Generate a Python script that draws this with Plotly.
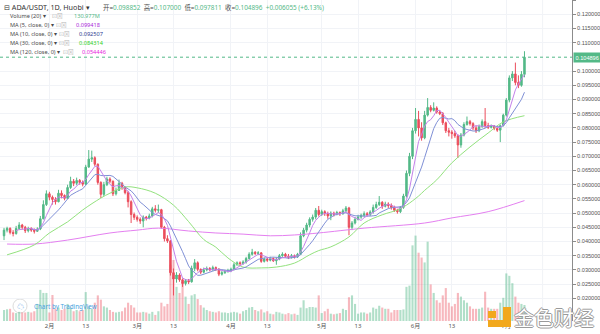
import pandas as pd
import plotly.graph_objects as go

# ---------------- data ----------------
start_date = "2020-01-17"
first_open = 0.0420

closes = [
    0.0440, 0.0446, 0.0432, 0.0428, 0.0446, 0.0458, 0.0450, 0.0438, 0.0446, 0.0440, 0.0436, 0.0444,
    0.0480, 0.0530, 0.0568, 0.0556, 0.0548, 0.0540, 0.0570, 0.0562, 0.0552, 0.0590, 0.0612, 0.0605,
    0.0615, 0.0608, 0.0602, 0.0662, 0.0690, 0.0695, 0.0672, 0.0608, 0.0566, 0.0600, 0.0620, 0.0612,
    0.0568, 0.0580, 0.0605, 0.0590, 0.0572, 0.0540, 0.0495, 0.0485, 0.0478, 0.0472, 0.0486, 0.0482,
    0.0490, 0.0515, 0.0510, 0.0512, 0.0450, 0.0410, 0.0402, 0.0290, 0.0268, 0.0282, 0.0265, 0.0252,
    0.0262, 0.0258, 0.0305, 0.0325, 0.0302, 0.0292, 0.0300, 0.0305, 0.0300, 0.0308, 0.0302, 0.0285,
    0.0290, 0.0296, 0.0298, 0.0302, 0.0318, 0.0325, 0.0322, 0.0328, 0.0340, 0.0355, 0.0362, 0.0358,
    0.0360, 0.0330, 0.0338, 0.0334, 0.0340, 0.0332, 0.0338, 0.0350, 0.0355, 0.0348, 0.0344, 0.0350,
    0.0346, 0.0355, 0.0420, 0.0440, 0.0458, 0.0478, 0.0486, 0.0510, 0.0495, 0.0505, 0.0498, 0.0490,
    0.0500, 0.0496, 0.0502, 0.0498, 0.0508, 0.0518, 0.0450, 0.0465, 0.0478, 0.0486, 0.0492, 0.0498,
    0.0494, 0.0504, 0.0520, 0.0530, 0.0538, 0.0524, 0.0532, 0.0526, 0.0520, 0.0510, 0.0505, 0.0520,
    0.0560, 0.0640, 0.0700, 0.0790, 0.0830, 0.0800, 0.0765, 0.0845, 0.0872, 0.0862, 0.0870, 0.0856,
    0.0850, 0.0818, 0.0790, 0.0785, 0.0780, 0.0772, 0.0740, 0.0775, 0.0812, 0.0822, 0.0815, 0.0800,
    0.0790, 0.0805, 0.0822, 0.0808, 0.0802, 0.0806, 0.0798, 0.0792, 0.0808, 0.0845, 0.0898, 0.0976,
    0.0990, 0.0960, 0.0950, 0.098852, 0.104896,
]
highs = [
    0.0448, 0.0452, 0.0450, 0.0440, 0.0455, 0.0468, 0.0462, 0.0455, 0.0452, 0.0450, 0.0446, 0.0450,
    0.0490, 0.0545, 0.0580, 0.0575, 0.0562, 0.0556, 0.0582, 0.0580, 0.0566, 0.0600, 0.0628, 0.0620,
    0.0625, 0.0620, 0.0615, 0.0670, 0.0722, 0.0720, 0.0700, 0.0675, 0.0612, 0.0610, 0.0628, 0.0626,
    0.0615, 0.0590, 0.0618, 0.0610, 0.0594, 0.0578, 0.0545, 0.0502, 0.0492, 0.0485, 0.0492, 0.0490,
    0.0498, 0.0522, 0.0528, 0.0530, 0.0515, 0.0455, 0.0422, 0.0405, 0.0305, 0.0292, 0.0288, 0.0270,
    0.0268, 0.0268, 0.0315, 0.0338, 0.0330, 0.0305, 0.0308, 0.0312, 0.0310, 0.0315, 0.0312, 0.0306,
    0.0296, 0.0300, 0.0304, 0.0308, 0.0325, 0.0330, 0.0330, 0.0334, 0.0346, 0.0362, 0.0374, 0.0366,
    0.0366, 0.0362, 0.0344, 0.0342, 0.0346, 0.0344, 0.0344, 0.0356, 0.0362, 0.0360, 0.0356, 0.0356,
    0.0354, 0.0360, 0.0432, 0.0448, 0.0466, 0.0485, 0.0495, 0.0518, 0.0525, 0.0512, 0.0510, 0.0505,
    0.0506, 0.0505, 0.0508, 0.0506, 0.0515, 0.0525, 0.0522, 0.0472, 0.0486, 0.0494, 0.0498, 0.0506,
    0.0504, 0.0510, 0.0530, 0.0540, 0.0560, 0.0542, 0.0540, 0.0538, 0.0534, 0.0526, 0.0515, 0.0525,
    0.0568, 0.0650, 0.0712, 0.0800, 0.0870, 0.0860, 0.0820, 0.0860, 0.0905, 0.0880, 0.0890, 0.0876,
    0.0862, 0.0856, 0.0822, 0.0800, 0.0792, 0.0790, 0.0778, 0.0782, 0.0820, 0.0840, 0.0828, 0.0820,
    0.0808, 0.0812, 0.0830, 0.0870, 0.0818, 0.0812, 0.0810, 0.0802, 0.0812, 0.0850, 0.0905, 0.0985,
    0.1000, 0.1030, 0.0985, 0.1000, 0.107000,
]
lows = [
    0.0405, 0.0432, 0.0425, 0.0418, 0.0424, 0.0440, 0.0442, 0.0430, 0.0432, 0.0434, 0.0428, 0.0434,
    0.0440, 0.0478, 0.0525, 0.0545, 0.0530, 0.0530, 0.0538, 0.0552, 0.0545, 0.0550, 0.0585, 0.0595,
    0.0598, 0.0600, 0.0594, 0.0598, 0.0660, 0.0680, 0.0665, 0.0600, 0.0553, 0.0560, 0.0595, 0.0605,
    0.0560, 0.0562, 0.0578, 0.0582, 0.0566, 0.0520, 0.0465, 0.0476, 0.0470, 0.0462, 0.0450, 0.0474,
    0.0478, 0.0485, 0.0502, 0.0500, 0.0445, 0.0400, 0.0395, 0.0280, 0.0210, 0.0255, 0.0258, 0.0240,
    0.0245, 0.0250, 0.0255, 0.0295, 0.0295, 0.0285, 0.0288, 0.0295, 0.0295, 0.0298, 0.0296, 0.0278,
    0.0280, 0.0286, 0.0290, 0.0292, 0.0298, 0.0315, 0.0316, 0.0318, 0.0322, 0.0336, 0.0350, 0.0352,
    0.0352, 0.0325, 0.0326, 0.0328, 0.0330, 0.0328, 0.0318, 0.0334, 0.0346, 0.0342, 0.0338, 0.0340,
    0.0340, 0.0342, 0.0352, 0.0415, 0.0432, 0.0450, 0.0470, 0.0478, 0.0488, 0.0490, 0.0490, 0.0480,
    0.0475, 0.0488, 0.0492, 0.0490, 0.0494, 0.0502, 0.0422, 0.0440, 0.0460, 0.0474, 0.0480, 0.0486,
    0.0488, 0.0490, 0.0498, 0.0515, 0.0525, 0.0515, 0.0520, 0.0518, 0.0512, 0.0504, 0.0498, 0.0500,
    0.0515, 0.0555, 0.0630, 0.0690, 0.0780, 0.0770, 0.0755, 0.0760, 0.0840, 0.0855, 0.0858, 0.0850,
    0.0845, 0.0810, 0.0782, 0.0770, 0.0762, 0.0765, 0.0694, 0.0730, 0.0770, 0.0808, 0.0808, 0.0792,
    0.0782, 0.0785, 0.0800, 0.0800, 0.0796, 0.0798, 0.0792, 0.0786, 0.0750, 0.0805, 0.0840, 0.0890,
    0.0965, 0.0950, 0.0940, 0.0945, 0.097811,
]
volumes_m = [
    90, 96, 100, 70, 65, 75, 70, 70, 75, 70, 80, 140,
    255, 230, 230, 70, 213, 100, 110, 90, 100, 140, 110, 80,
    90, 80, 90, 237, 120, 100, 150, 210, 175, 120, 110, 90,
    75, 70, 75, 80, 110, 150, 130, 110, 70, 70, 75, 70,
    60, 75, 50, 80, 150, 120, 140, 460, 500, 280, 230, 320,
    200, 140, 210, 220, 180, 130, 110, 90, 80, 75, 70, 80,
    70, 70, 65, 70, 75, 70, 60, 80, 90, 110, 115, 90,
    80, 95, 70, 80, 60, 55, 75, 70, 60, 55, 65, 55,
    60, 50, 110, 170, 105, 115, 115, 110, 210, 65, 80, 100,
    60, 55, 60, 65, 100, 90, 195, 210, 140, 60, 70, 70,
    60, 70, 110, 100, 125, 110, 100, 100, 70, 90, 90, 90,
    95, 280, 290, 620, 700, 560, 520, 480, 650, 300, 230, 170,
    150, 210, 270, 150, 120, 140, 230, 200, 170, 150, 120, 100,
    100, 100, 110, 240, 110, 100, 100, 100, 150, 190, 390, 370,
    310, 200, 150, 140, 130.977,
]

# moving averages (day offset from start, value)
ma30_days = [1, 10, 15, 21, 26, 32, 35, 40, 44, 50, 56, 61, 66, 70, 74, 79, 85, 90, 96, 101,
             104, 108, 114, 119, 125, 130, 133, 137, 139, 143, 148, 154, 160, 165, 172]
ma30_vals = [0.0353, 0.0388, 0.0430, 0.0469, 0.0511, 0.0553, 0.0570, 0.0592, 0.0589, 0.0570,
             0.0528, 0.0470, 0.0407, 0.0380, 0.0342, 0.0310, 0.0307, 0.0310, 0.0324, 0.0353,
             0.0368, 0.0381, 0.0416, 0.0465, 0.0494, 0.0511, 0.0528, 0.0560, 0.0580, 0.0617,
             0.0677, 0.0733, 0.0782, 0.0821, 0.0843]
ma120_days = [1, 10, 21, 35, 44, 51, 61, 70, 79, 88, 96, 104, 119, 139, 148, 160, 172]
ma120_vals = [0.0391, 0.0391, 0.0405, 0.0430, 0.0440, 0.0447, 0.0437, 0.0430, 0.0426, 0.0420,
              0.0423, 0.0430, 0.0447, 0.0465, 0.0483, 0.0505, 0.0544]

tick_dates = ["2020-02-01", "2020-02-13", "2020-03-01", "2020-03-13", "2020-04-01", "2020-04-13",
              "2020-05-01", "2020-05-13", "2020-06-01", "2020-06-13", "2020-07-01"]
tick_text = ["2月", "13", "3月", "13", "4月", "13", "5月", "13", "6月", "13", "7月"]
grid_dates = tick_dates + ["2020-07-13"]
y_ticks = [0.020, 0.025, 0.030, 0.035, 0.040, 0.045, 0.050, 0.055, 0.060, 0.065, 0.070,
           0.075, 0.080, 0.085, 0.090, 0.095, 0.100, 0.110, 0.115, 0.120, 0.125]

last_price = 0.104896
header_values = {"开": "0.098852", "高": "0.107000", "低": "0.097811", "收": "0.104896"}
change_text = "+0.006055 (+6.13%)"
volume_text = "130.977M"
ma_labels = ["MA (5, close, 0)", "MA (10, close, 0)", "MA (30, close, 0)", "MA (120, close, 0)"]
ma_values = ["0.099418", "0.092507", "0.084314", "0.054446"]

# ---------------- derived ----------------
dates = pd.date_range(start_date, periods=len(closes), freq="D")
opens = [first_open] + closes[:-1]
close_s = pd.Series(closes, index=dates)
ma5 = close_s.rolling(5).mean()
ma10 = close_s.rolling(10).mean()
ma30_x = [dates[0] + pd.Timedelta(days=d) for d in ma30_days]
ma120_x = [dates[0] + pd.Timedelta(days=d) for d in ma120_days]

UP = "#53b987"
DOWN = "#eb4d5c"
UP_V = "rgba(83,185,135,0.45)"
DOWN_V = "rgba(235,77,92,0.40)"
vol_colors = [UP_V if c >= o else DOWN_V for o, c in zip(opens, closes)]

C_MA5, C_MA10, C_MA30, C_MA120 = "#c382ea", "#7f90d6", "#93e27e", "#e47ff0"
V_MA5, V_MA10, V_MA30, V_MA120 = "#a926d9", "#2b3a8f", "#2ed11a", "#e622dd"

fig = go.Figure()
fig.add_trace(go.Bar(x=dates, y=volumes_m, marker=dict(color=vol_colors, line=dict(width=0)),
                     yaxis="y2", showlegend=False, hoverinfo="skip"))
fig.add_trace(go.Candlestick(
    x=dates, open=opens, high=highs, low=lows, close=closes,
    increasing=dict(line=dict(color=UP, width=1), fillcolor=UP),
    decreasing=dict(line=dict(color=DOWN, width=1), fillcolor=DOWN),
    whiskerwidth=0, showlegend=False))
fig.add_trace(go.Scatter(x=ma120_x, y=ma120_vals, mode="lines", line=dict(color=C_MA120, width=1, shape="spline"), showlegend=False))
fig.add_trace(go.Scatter(x=ma30_x, y=ma30_vals, mode="lines", line=dict(color=C_MA30, width=1, shape="spline"), showlegend=False))
fig.add_trace(go.Scatter(x=dates, y=ma10, mode="lines", line=dict(color=C_MA10, width=1), showlegend=False))
fig.add_trace(go.Scatter(x=dates, y=ma5, mode="lines", line=dict(color=C_MA5, width=1), showlegend=False))

W, H = 600, 334
ML, MR, MT, MB = 0, 28, 0, 13
PW, PH = W - ML - MR, H - MT - MB


def fx(px):
    return (px - ML) / PW


def fy(py):
    return 1 - (py - MT) / PH


FONT = "Noto Sans, Noto Sans CJK SC, sans-serif"
GRAY = "#4a4a4a"

annotations = []


def label(px, py, text, size=6, color=GRAY, anchor="left", **fontkw):
    annotations.append(dict(x=fx(px), y=fy(py), xref="paper", yref="paper", text=text,
                            showarrow=False, xanchor=anchor, yanchor="middle",
                            font=dict(family=FONT, size=size, color=color, **fontkw)))


# header line
label(2, 7, "⊟ ADA/USDT, 1D, Huobi ▾", size=7.2, color="#333333")
hdr = "  ".join(f"<span style='color:{GRAY}'>{k}=</span><span style='color:{UP}'>{v}</span>"
                for k, v in header_values.items())
hdr += f"  <span style='color:{UP}'>{change_text}</span>"
label(101, 7, hdr, size=6.4)
# indicator lines
label(8, 16, "Volume (20) ▾", size=5.6)
label(50, 16, "⊡⊠", size=5.6, color="#b5b5b5")
label(72, 16, volume_text, size=5.6, color=UP)
rows_y = [25, 34, 43, 52]
box_x = [54, 57, 57, 61]
val_x = [74, 77, 77, 80]
val_cols = [V_MA5, V_MA10, V_MA30, V_MA120]
for lab, val, yy, bx, vx, vc in zip(ma_labels, ma_values, rows_y, box_x, val_x, val_cols):
    label(8, yy, lab + " ▾", size=5.6)
    label(bx, yy, "⊡⊠", size=5.6, color="#b5b5b5")
    label(vx, yy, val, size=5.6, color=vc)

# last price tag on axis
annotations.append(dict(x=1, y=last_price, xref="paper", yref="y", text=f"{last_price:.6f}",
                        showarrow=False, xanchor="left", yanchor="middle", xshift=1,
                        bgcolor=UP, borderpad=1.5,
                        font=dict(family="Liberation Sans, Arial", size=5.6, color="white")))

# TradingView credit
label(32, 306, "Chart by TradingView", size=6.3, color="#4a9fe0")
label(20, 306, "☁", size=7, color="#3b8ee0", anchor="center")
# watermark (white letters with a grey outline)
outline = "1px 0 0 #9a9a9a, -1px 0 0 #9a9a9a, 0 1px 0 #9a9a9a, 0 -1px 0 #9a9a9a"
label(554, 318, "金色财经", size=20, color="white", anchor="center", shadow=outline)

shapes = [
    dict(type="line", xref="paper", yref="y", x0=0, x1=1, y0=last_price, y1=last_price,
         line=dict(color=UP, width=1, dash="dot")),
    dict(type="circle", xref="paper", yref="paper", x0=fx(13), x1=fx(27), y0=fy(313), y1=fy(299),
         line=dict(color="#dcdcdc", width=1), fillcolor="white", layer="below"),
    # watermark logo
    dict(type="rect", xref="paper", yref="paper", x0=fx(488), x1=fx(496), y0=fy(318), y1=fy(311),
         line=dict(width=0), fillcolor="#f2a81d"),
    dict(type="rect", xref="paper", yref="paper", x0=fx(503), x1=fx(511), y0=fy(327), y1=fy(307),
         line=dict(width=0), fillcolor="#f2a81d"),
    dict(type="rect", xref="paper", yref="paper", x0=fx(488), x1=fx(511), y0=fy(327), y1=fy(320),
         line=dict(width=0), fillcolor="#f2a81d"),
]
for gd in grid_dates[-1:]:
    shapes.append(dict(type="line", xref="x", yref="paper", x0=gd, x1=gd, y0=0, y1=1,
                       line=dict(color="#f1f3f7", width=1), layer="below"))

fig.update_layout(
    width=W, height=H,
    margin=dict(l=ML, r=MR, t=MT, b=MB, pad=0),
    paper_bgcolor="white", plot_bgcolor="white",
    showlegend=False, bargap=0.3,
    font=dict(family=FONT, size=6, color=GRAY),
    xaxis=dict(type="date", range=["2020-01-15 16:00", "2020-07-22 17:00"],
               tickvals=tick_dates, ticktext=tick_text, tickangle=0,
               showgrid=True, gridcolor="#f1f3f7", gridwidth=1, zeroline=False,
               ticks="", showline=False, rangeslider=dict(visible=False),
               tickfont=dict(family=FONT, size=6, color="#555555")),
    yaxis=dict(side="right", range=[0.012, 0.12504], tickvals=y_ticks, tickformat=".6f",
               showgrid=True, gridcolor="#f1f3f7", gridwidth=1, zeroline=False,
               showline=True, linecolor="#8c8c8c", linewidth=1,
               ticks="outside", ticklen=3, tickcolor="#8c8c8c",
               tickfont=dict(family="Liberation Sans, Arial", size=5.6, color="#555555")),
    yaxis2=dict(overlaying="y", range=[0, PH / 0.122], visible=False, fixedrange=True),
    annotations=annotations,
    shapes=shapes,
)

fig.write_html("out.html")
